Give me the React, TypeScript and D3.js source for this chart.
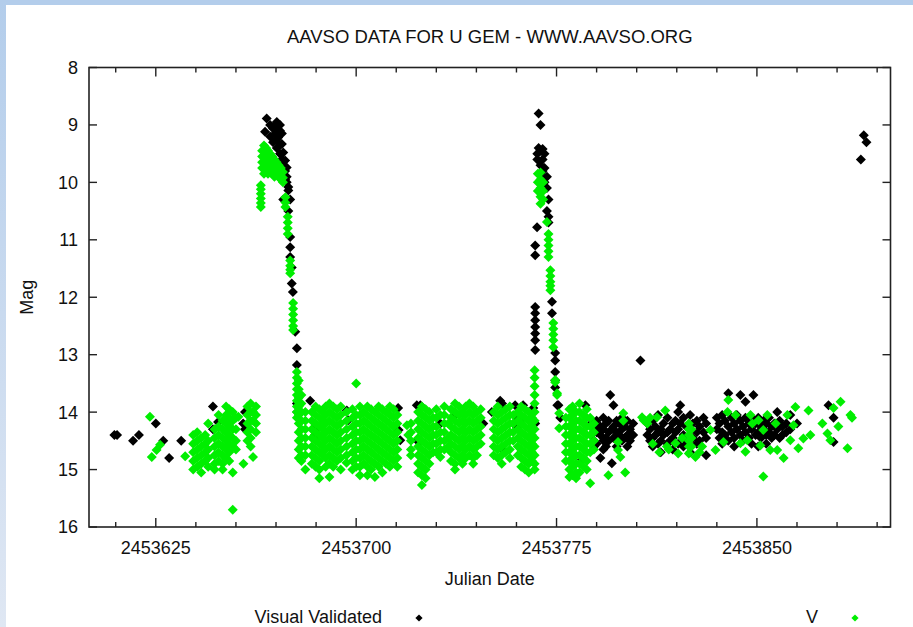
import React from "react";
import * as d3 from "d3";

const W = 913;
const H = 627;
const TITLE = "AAVSO DATA FOR U GEM - WWW.AAVSO.ORG";
const X_LABEL = "Julian Date";
const Y_LABEL = "Mag";
const SERIES_NAMES = ["Visual Validated", "V"];
const BASE_JD = 2453600;
const X_DOMAIN = [2453600, 2453900];
const Y_DOMAIN = [8, 16];
const X_MAJOR_TICKS = [2453625, 2453700, 2453775, 2453850];
const X_MINOR_TICKS = [2453610, 2453640, 2453655, 2453670, 2453685, 2453715, 2453730, 2453745, 2453760, 2453790, 2453805, 2453820, 2453835, 2453865, 2453880, 2453895];
const Y_TICKS = [8, 9, 10, 11, 12, 13, 14, 15, 16];

// [day offset from BASE_JD, magnitudes observed that day]
const visualValidated: [number, number[]][] = [
  [9.5, [14.4]], [10.5, [14.4]], [16.5, [14.5]], [18.7, [14.4]], [25, [14.2]], [27.8, [14.5]], [30, [14.8]], [34.5, [14.5]],
  [46.4, [13.9, 14.3]], [48.3, [14.17]], [57.7, [14.2]], [58.4, [14.0, 14.3]],
  [65.9, [9.12]], [66.5, [8.89]], [67.8, [9.0, 9.2]], [68.9, [9.06, 9.3]], [69.7, [9.0, 9.15]], [70.3, [8.95, 9.25, 9.4]],
  [70.8, [9.1, 9.22]], [71.5, [9.0, 9.1, 9.35, 9.5]], [72.2, [9.15, 9.33, 9.6]], [72.7, [9.48, 9.7, 10.3]],
  [73.4, [9.62, 9.8, 9.95]], [74, [9.74, 9.9, 10.0]], [74.6, [10.08, 10.14, 10.5]], [75.3, [10.3, 10.95, 11.13, 11.3]],
  [75.9, [11.48, 11.76]], [76.3, [11.91]], [77.2, [12.6]], [77.8, [12.89, 13.18, 13.85]], [77.9, [14.0]],
  [82.8, [13.8]], [84.6, [14.27, 14.4, 14.48]], [85.4, [14.3]], [96.5, [13.97]], [97, [14.14]],
  [115.7, [13.93]], [115.9, [14.31]], [116.5, [14.49]], [122.7, [13.88, 14.49]], [124, [13.88, 14.49]],
  [131.5, [14.2]], [136.3, [14.09]], [147.6, [14.2]], [150.8, [14.0]], [153.9, [13.8]], [154.6, [13.85]], [155, [14.66]],
  [159.5, [13.88]], [160.2, [14.14, 14.27]], [161.4, [14.14]], [162.5, [13.88]], [166.3, [13.93]],
  [167, [11.1, 11.27, 12.17, 12.28, 12.4, 12.52, 12.63, 12.75, 12.92, 14.2]], [167.7, [10.78]], [167.8, [9.5, 9.6]],
  [168.3, [8.8, 9.4]], [169, [9.0, 9.45, 9.7, 9.85]], [169.8, [9.42, 9.6, 9.8]], [170.5, [9.5, 9.75, 10.0]],
  [171.4, [9.9, 10.1, 10.5]], [172, [10.3, 10.6, 10.7]], [173.3, [12.08, 12.28]], [174.5, [12.97, 13.1, 13.3, 13.45, 13.57]],
  [175.3, [13.88]], [175.7, [13.88]], [176.4, [14.1]],
  [184.5, [14.83]], [185.8, [13.88]], [188, [14.2, 14.4]], [189, [14.3, 14.5, 14.6]], [190, [14.15, 14.35, 14.55]],
  [191.4, [14.25, 14.4, 14.8]], [192.5, [14.1, 14.3, 14.5, 14.65]], [193.5, [14.2, 14.45, 14.6]], [194.5, [14.15, 14.35, 14.5]],
  [195.1, [13.7]], [195.7, [14.3, 14.89]], [196.3, [13.88, 14.25, 14.45]], [197.5, [14.15, 14.35, 14.6]], [198.5, [14.2, 14.4]],
  [199.5, [14.1, 14.3, 14.5]], [200.5, [14.25, 14.45]], [201.5, [14.15, 14.4, 14.6]], [202.5, [14.3, 14.5]], [203.7, [14.2, 14.4]],
  [206.4, [13.1]],
  [209, [14.2, 14.4]], [210, [14.3, 14.5]], [211, [14.15, 14.45, 14.6]], [212, [14.25, 14.4]], [213, [14.05, 14.35, 14.55]],
  [214, [14.3, 14.5, 14.7]], [215, [14.2, 14.4]], [216.5, [14.1, 14.35, 14.55]], [217.5, [14.3, 14.5]], [218.5, [14.2, 14.45, 14.65]],
  [219.5, [14.15, 14.35]], [220.5, [14.0, 14.3, 14.55]], [221.3, [13.88, 14.2]], [222.5, [14.1, 14.4, 14.6]], [223.5, [14.25, 14.5]],
  [225, [14.05, 14.3, 14.7]], [226, [14.2, 14.45]], [227.5, [14.15, 14.35, 14.55]], [228.5, [14.25, 14.5]], [230, [14.1, 14.35]],
  [231, [14.2, 14.45, 14.75]],
  [235, [14.1, 14.3]], [236, [14.2, 14.45]], [237, [14.05, 14.35, 14.55]], [238, [14.15, 14.4]], [239.3, [13.67, 14.25, 14.5]],
  [240.5, [14.1, 14.35]], [241.5, [14.2, 14.45, 14.6]], [242.5, [14.05, 14.3]], [243.8, [13.7, 14.15, 14.4]], [244.8, [14.25, 14.5]],
  [245.7, [13.82, 14.1, 14.35]], [247, [14.2, 14.45]], [248, [14.1, 14.3, 14.55]], [248.7, [13.7]], [249.5, [14.2, 14.4]],
  [250.5, [14.1, 14.35, 14.6]], [251.5, [14.25, 14.45]], [252.5, [14.15, 14.3]], [253.5, [14.2, 14.4, 14.55]], [254.5, [14.1, 14.35]],
  [255.5, [14.25, 14.45]], [256.5, [14.2, 14.4]], [257.6, [14.0, 14.3]], [258.5, [14.15, 14.45]], [259.5, [14.25, 14.4]],
  [261, [14.2, 14.35]], [262.5, [14.05, 14.3]], [265, [14.2]], [276.8, [13.88]], [278.7, [14.1, 14.52]],
  [288.9, [9.6]], [290, [9.18]], [291, [9.3]],
];

const vBand: [number, number[]][] = [
  [22.8, [14.08]], [23.5, [14.78]], [25.3, [14.66]], [26.6, [14.57]], [36, [14.77]],
  [39, [14.4, 14.55, 14.7, 14.85, 15.0]], [40.5, [14.35, 14.5, 14.65, 14.8, 14.95]], [42, [14.45, 14.6, 14.75, 14.9, 15.05]],
  [43.5, [14.4, 14.55, 14.7, 14.85]], [44.6, [14.2, 14.5, 14.65, 14.8, 14.95]],
  [47, [14.3, 14.45, 14.6, 14.75, 14.9, 15.0]], [48.5, [14.05, 14.25, 14.4, 14.55, 14.7, 14.85]],
  [50, [14.15, 14.3, 14.45, 14.6, 14.75, 14.9, 15.0]], [51.3, [13.9, 14.05, 14.2, 14.35, 14.5, 14.65, 14.8]],
  [52.5, [13.95, 14.1, 14.25, 14.4, 14.55, 14.7, 14.85]], [53.8, [14.0, 14.15, 14.3, 14.45, 14.6, 15.05, 15.7]],
  [55, [14.1, 14.3, 14.5, 14.65]], [55.9, [14.08]], [57.8, [14.9]],
  [59.3, [13.9, 14.05, 14.2, 14.35, 14.5]], [60.5, [13.85, 14.0, 14.15, 14.3, 14.45, 14.6]], [61.4, [14.0, 14.15, 14.78]],
  [62.5, [13.9, 14.05, 14.2, 14.35]],
  [64.3, [10.05, 10.12, 10.2, 10.28, 10.36, 10.43]],
  [64.8, [9.45, 9.55, 9.65, 9.75]], [65.5, [9.36, 9.45, 9.55, 9.65, 9.75, 9.85]], [66.3, [9.4, 9.5, 9.6, 9.7, 9.8]],
  [67, [9.45, 9.55, 9.65, 9.75, 9.85]], [67.8, [9.5, 9.6, 9.7, 9.8]], [68.6, [9.55, 9.65, 9.75, 9.85]],
  [69.4, [9.6, 9.7, 9.8, 9.9]], [70.2, [9.65, 9.75, 9.85]], [71, [9.7, 9.8, 9.9]], [71.8, [9.75, 9.85, 9.95]],
  [72.6, [9.82, 9.92, 10.0]], [73.5, [10.26, 10.35, 10.43]], [74.4, [10.6, 10.7, 10.8, 10.9]],
  [75.3, [11.36, 11.45, 11.52, 11.58]], [76.4, [12.1, 12.2, 12.3, 12.4, 12.5, 12.57]],
  [77.8, [13.3, 13.4, 13.5, 13.6, 13.7, 13.8, 13.9, 14.0, 14.1]],
  [78.5, [13.45, 13.6, 13.75, 13.9, 14.05, 14.2, 14.35, 14.5, 14.65, 14.8]],
  [79.5, [13.7, 13.85, 14.0, 14.15, 14.3, 14.45, 14.6, 14.75, 14.85]], [81, [14.0, 14.15, 14.3, 14.45, 14.6, 14.75, 15.0]],
  [83.4, [14.0, 14.15, 14.3, 14.45, 14.6, 14.75, 14.9]], [84.8, [13.9, 14.05, 14.2, 14.35, 14.5, 14.65, 14.8, 14.95]],
  [86.2, [13.95, 14.1, 14.25, 14.4, 14.55, 14.7, 14.85, 15.0, 15.15]], [87.5, [14.0, 14.15, 14.3, 14.45, 14.6, 14.75]],
  [88.6, [13.9, 14.05, 14.2, 14.35, 14.5, 14.65, 14.8, 14.95]], [90, [13.85, 14.0, 14.15, 14.3, 14.45, 14.6, 14.75, 14.9, 15.13]],
  [91.4, [13.9, 14.05, 14.2, 14.35, 14.5, 14.65, 14.8, 14.95]], [92.8, [13.95, 14.1, 14.25, 14.4, 14.55, 14.7, 14.85]],
  [94.2, [13.9, 14.05, 14.2, 14.35, 14.5, 14.65, 14.8, 15.0]], [96.4, [14.0, 14.15, 14.3, 14.45, 14.6, 14.75, 14.88]],
  [98.6, [13.95, 14.1, 14.25, 14.4, 14.55, 14.7, 14.85, 15.0]], [100, [13.5, 14.05, 14.2, 14.35, 14.5, 14.65, 14.8, 14.95]],
  [101.4, [13.9, 14.05, 14.2, 14.35, 14.5, 14.65, 14.8, 14.95, 15.1]], [102.8, [14.0, 14.15, 14.3, 14.45, 14.6, 14.75, 14.9]],
  [104.2, [13.9, 14.05, 14.2, 14.35, 14.5, 14.65, 14.8, 14.95, 15.1]], [105.6, [13.95, 14.1, 14.25, 14.4, 14.55, 14.7, 14.85, 15.0]],
  [107, [14.0, 14.15, 14.3, 14.45, 14.6, 14.75, 14.9, 15.13]], [108.4, [13.9, 14.05, 14.2, 14.35, 14.5, 14.65, 14.8, 14.95]],
  [109.8, [13.95, 14.1, 14.25, 14.4, 14.55, 14.7, 14.85, 15.05]], [111.2, [14.0, 14.15, 14.3, 14.45, 14.6, 14.75, 14.9]],
  [112.6, [13.9, 14.05, 14.2, 14.35, 14.5, 14.65, 14.8, 14.95]], [114, [13.95, 14.1, 14.25, 14.4, 14.55, 14.7, 14.85]],
  [115.4, [14.05, 14.2, 14.35, 14.5, 14.65, 14.8, 14.95]], [119, [14.23]], [119.5, [14.4]],
  [120.5, [14.2, 14.35, 14.5, 14.65, 14.75]],
  [123.2, [14.0, 14.15, 14.3, 14.45, 14.6, 14.75, 14.9, 15.05]], [124.6, [13.9, 14.05, 14.2, 14.35, 14.5, 14.65, 14.8, 14.95, 15.1, 15.27]],
  [126, [13.95, 14.1, 14.25, 14.4, 14.55, 14.7, 14.85, 15.0, 15.15]], [127.4, [14.0, 14.15, 14.3, 14.45, 14.6, 14.75, 14.9]],
  [128.8, [14.1, 14.25, 14.4, 14.55, 14.7]], [130, [13.95, 14.1, 14.25, 14.4, 14.55, 14.7]],
  [131.5, [14.05, 14.35, 14.5, 14.65, 14.78]], [133, [13.9, 14.05, 14.2, 14.35, 14.5, 14.65]], [134.5, [14.2, 14.45, 14.6]],
  [135.5, [13.95, 14.1, 14.25, 14.4, 14.55, 14.7, 14.85]], [137, [13.85, 14.0, 14.15, 14.3, 14.45, 14.6, 14.75, 14.9, 15.0]],
  [138.5, [13.9, 14.05, 14.2, 14.35, 14.5, 14.65, 14.8]], [139.8, [14.0, 14.15, 14.3, 14.45, 14.6, 14.75, 14.9]],
  [141, [13.9, 14.05, 14.2, 14.35, 14.5, 14.65, 14.8]], [142.4, [13.85, 14.0, 14.15, 14.3, 14.45, 14.6, 14.75]],
  [143.8, [13.9, 14.05, 14.2, 14.35, 14.5, 14.65, 14.8, 14.9]], [145.2, [14.0, 14.15, 14.3, 14.45, 14.6, 14.75]],
  [146.6, [13.95, 14.1, 14.25, 14.4, 14.55]],
  [151.5, [14.0, 14.15, 14.3, 14.45, 14.6, 14.75]], [153, [13.9, 14.05, 14.2, 14.35, 14.5, 14.65, 14.8]],
  [154.5, [14.0, 14.15, 14.3, 14.45, 14.6, 14.75, 14.9]], [156, [13.95, 14.1, 14.25, 14.4, 14.55, 14.7]],
  [157.5, [13.9, 14.05, 14.2, 14.35, 14.5, 14.65, 14.8]], [158.8, [14.05, 14.2, 14.35, 14.5]],
  [160.5, [14.0, 14.15, 14.3, 14.45, 14.6, 14.75]], [161.8, [13.9, 14.05, 14.2, 14.35, 14.5, 14.65, 14.8, 14.95]],
  [163.2, [13.95, 14.1, 14.25, 14.4, 14.55, 14.7, 14.85, 15.0]], [164.6, [14.0, 14.15, 14.3, 14.45, 14.6, 14.75, 14.9, 15.05]],
  [165.8, [14.1, 14.25, 14.4, 14.55, 14.7, 14.85]],
  [166.8, [13.27, 13.4, 13.55, 13.7, 13.85, 14.0, 14.15, 14.3, 14.45, 14.6, 14.75, 14.9, 15.0]],
  [168, [9.85, 10.0, 10.15]], [169, [9.83, 9.95, 10.1, 10.25, 10.37]], [170, [10.0, 10.15, 10.3]],
  [171.4, [10.69]], [172, [10.9, 11.0, 11.1, 11.2, 11.3]], [172.7, [11.53, 11.63, 11.73, 11.8, 11.88]],
  [173.8, [12.45, 12.55, 12.65, 12.75, 12.87]], [174.5, [13.44, 13.48]], [175.2, [13.67, 13.7]], [176, [14.02, 14.28]],
  [178.5, [14.1, 14.25, 14.4, 14.55, 14.7, 14.85]], [179.8, [13.95, 14.1, 14.25, 14.4, 14.55, 14.7, 14.85, 15.0, 15.13]],
  [181, [13.9, 14.05, 14.2, 14.35, 14.5, 14.65, 14.8, 14.95, 15.1]], [182.3, [14.0, 14.15, 14.3, 14.45, 14.6, 14.75, 14.9, 15.05, 15.15]],
  [183.6, [13.85, 14.0, 14.15, 14.3, 14.45, 14.6, 14.75, 14.9, 15.05]], [185, [14.05, 14.2, 14.35, 14.5, 14.65, 14.8, 14.95]],
  [186.3, [13.95, 14.1, 14.25, 14.4, 14.55, 14.7, 14.85, 15.0]], [187.6, [14.1, 14.25, 14.4, 14.55, 14.7, 15.24]],
  [189, [14.2, 14.35, 14.5, 14.65]], [194.4, [15.1]], [198, [14.52, 14.66]], [198.9, [14.78]], [200, [14.02, 14.15]],
  [200.7, [15.05]], [207, [14.09]], [207.6, [14.14]], [208, [14.14]], [209, [14.2]], [210, [14.1]], [211, [14.55]],
  [212.6, [14.09]], [213.5, [14.7]], [215.7, [13.97]], [216.3, [14.6]], [217, [14.65]], [219.5, [14.54]], [220.5, [14.72]],
  [222, [14.45]], [224.5, [14.2, 14.3, 14.4, 14.5, 14.6, 14.72]], [225.5, [14.3, 14.45, 14.6]], [227, [14.78]],
  [228.5, [14.7]], [229.5, [14.6]], [232.6, [14.31]], [234.5, [14.66]], [237.5, [14.52]], [239, [14.0]], [239.3, [13.79]],
  [242, [14.05]], [243.8, [14.54]], [245.7, [14.69]], [246.4, [14.49]], [247.6, [14.05]], [248.3, [14.2]], [250.6, [14.14]],
  [251.3, [14.58]], [252.4, [14.31, 15.12]], [253.9, [14.05]], [255, [14.66]], [257, [14.2]], [257.6, [14.66]], [260, [14.8]],
  [261.4, [14.05]], [262.5, [14.49]], [263.7, [14.23]], [264.4, [13.91]], [265.5, [14.63]], [267.4, [14.46]], [269.3, [13.97]],
  [270, [14.4]], [274.5, [14.2]], [276.4, [14.37]], [277.5, [14.49]], [278.7, [13.93]], [280.5, [14.25]], [281.3, [13.82]],
  [283.9, [14.63]], [285, [14.05]], [285.6, [14.1]],
];

const SERIES_COLORS = ["#000000", "#00ee00"];
const FONT = "'Liberation Sans', Arial, sans-serif";

type Pt = { jd: number; mag: number };
const flatten = (cols: [number, number[]][]): Pt[] =>
  cols.flatMap(([d, ms]) => ms.map((m) => ({ jd: BASE_JD + d, mag: m })));

export default function App() {
  const left = 89, right = 890.5, top = 67.5, bottom = 527;
  const x = d3.scaleLinear().domain(X_DOMAIN).range([left, right]);
  const y = d3.scaleLinear().domain(Y_DOMAIN).range([top, bottom]);
  const sym = d3.symbol(d3.symbolSquare, 50)() as string;
  const legendSym = d3.symbol(d3.symbolSquare, 26)() as string;
  const series = [flatten(visualValidated), flatten(vBand)];
  const axisColor = "#222";

  return (
    <svg width={W} height={H} style={{ position: "absolute", left: 0, top: 0, background: "#fff" }} fontFamily={FONT}>
      <defs>
        <linearGradient id="sideGrad" x1="0" y1="0" x2="0" y2="1">
          <stop offset="0" stopColor="#b3cdeb" />
          <stop offset="1" stopColor="#dfe7f3" />
        </linearGradient>
      </defs>
      <rect x={0} y={0} width={W} height={H} fill="#fff" />
      <rect x={0} y={0} width={W} height={5} fill="#b3cdeb" />
      <rect x={0} y={0} width={6} height={H} fill="url(#sideGrad)" />

      <text x={(left + right) / 2} y={43} textAnchor="middle" fontSize={18.5} fill="#111">{TITLE}</text>

      {/* frame */}
      <rect x={left} y={top} width={right - left} height={bottom - top} fill="none" stroke={axisColor} strokeWidth={1.6} />

      {/* x ticks */}
      {X_MAJOR_TICKS.map((t) => (
        <g key={"xm" + t}>
          <line x1={x(t)} x2={x(t)} y1={bottom} y2={bottom - 9} stroke={axisColor} strokeWidth={1.4} />
          <line x1={x(t)} x2={x(t)} y1={top} y2={top + 9} stroke={axisColor} strokeWidth={1.4} />
          <text x={x(t)} y={554} textAnchor="middle" fontSize={18} fill="#111">{t}</text>
        </g>
      ))}
      {X_MINOR_TICKS.map((t) => (
        <g key={"xn" + t}>
          <line x1={x(t)} x2={x(t)} y1={bottom} y2={bottom - 5} stroke={axisColor} strokeWidth={1.4} />
          <line x1={x(t)} x2={x(t)} y1={top} y2={top + 5} stroke={axisColor} strokeWidth={1.4} />
        </g>
      ))}
      {/* y ticks */}
      {Y_TICKS.map((t) => (
        <g key={"y" + t}>
          <line x1={left} x2={left + 8} y1={y(t)} y2={y(t)} stroke={axisColor} strokeWidth={1.4} />
          <line x1={right} x2={right - 8} y1={y(t)} y2={y(t)} stroke={axisColor} strokeWidth={1.4} />
          <text x={78} y={y(t)} dy="0.36em" textAnchor="end" fontSize={18} fill="#111">{t}</text>
        </g>
      ))}

      <text x={(left + right) / 2} y={585} textAnchor="middle" fontSize={18} fill="#111">{X_LABEL}</text>
      <text transform={`translate(33,${(top + bottom) / 2}) rotate(-90)`} textAnchor="middle" fontSize={18} fill="#111">{Y_LABEL}</text>

      {/* points */}
      {series.map((pts, si) => (
        <g key={"s" + si} fill={SERIES_COLORS[si]}>
          {pts.map((p, i) => (
            <path key={i} d={sym} transform={`translate(${x(p.jd)},${y(p.mag)}) rotate(45)`} />
          ))}
        </g>
      ))}

      {/* legend */}
      <text x={382} y={623} textAnchor="end" fontSize={18} fill="#111">{SERIES_NAMES[0]}</text>
      <path d={legendSym} transform="translate(419,618) rotate(45)" fill={SERIES_COLORS[0]} />
      <text x={818} y={623} textAnchor="end" fontSize={18} fill="#111">{SERIES_NAMES[1]}</text>
      <path d={legendSym} transform="translate(855,618) rotate(45)" fill={SERIES_COLORS[1]} />
    </svg>
  );
}
